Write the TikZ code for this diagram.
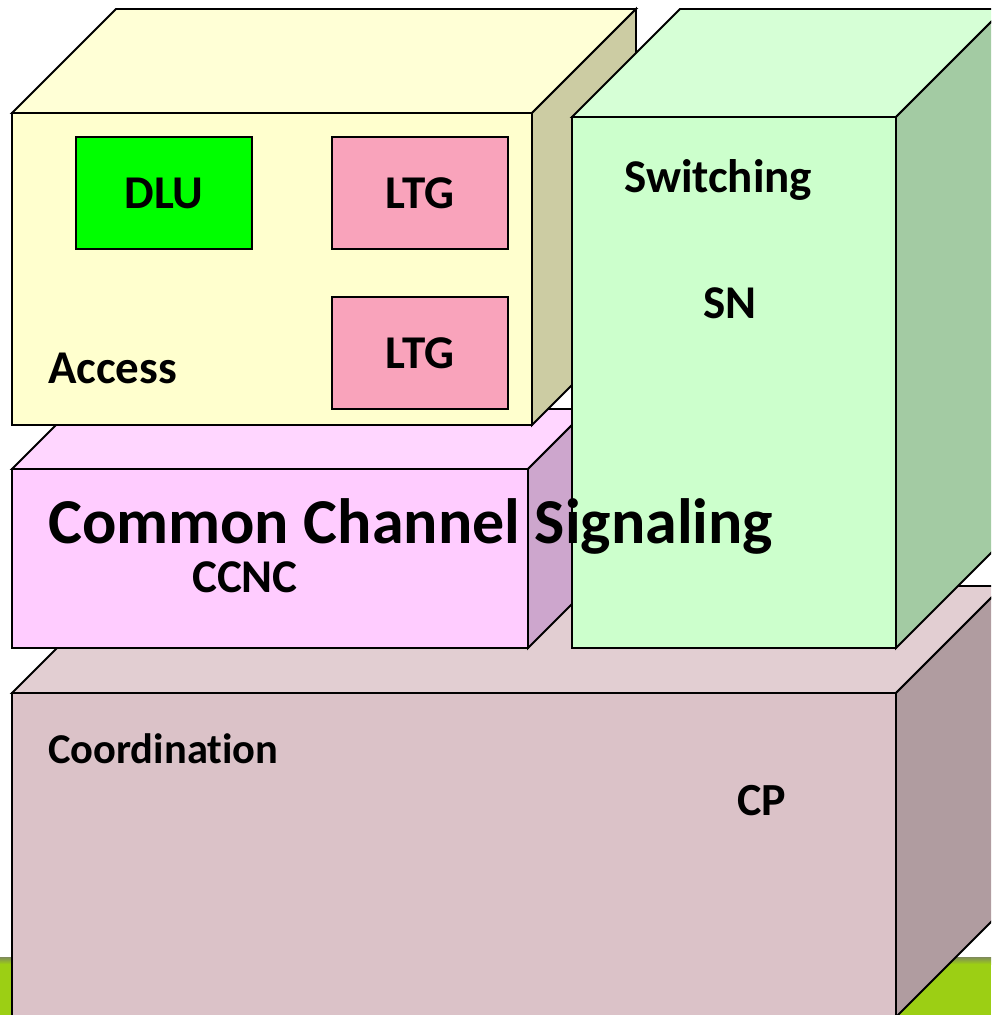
\documentclass[tikz,border=0pt]{standalone}
\usepackage{fontspec}
\setmainfont{Carlito}[Ligatures=NoCommon]

% face colours of the blocks: front, top, side
\definecolor{accFront}{HTML}{FFFFCE}
\definecolor{accTop}{HTML}{FFFFD6}
\definecolor{accSide}{HTML}{CCCCA3}
\definecolor{swFront}{HTML}{CCFFCC}
\definecolor{swTop}{HTML}{D6FFD6}
\definecolor{swSide}{HTML}{A3CBA3}
\definecolor{ccFront}{HTML}{FFCCFF}
\definecolor{ccTop}{HTML}{FFD6FF}
\definecolor{ccSide}{HTML}{CDA6CD}
\definecolor{cpFront}{HTML}{DBC2C8}
\definecolor{cpTop}{HTML}{E2CED2}
\definecolor{cpSide}{HTML}{B09CA0}
\definecolor{dluGreen}{HTML}{00FF00}
\definecolor{ltgPink}{HTML}{F9A3BB}
\definecolor{barGreen}{HTML}{9CCF14}
\definecolor{barOlive}{HTML}{7F8B5A}

\tikzset{
  edge/.style={draw=black,line width=1.9pt,line join=miter},
  lbl/.style={inner sep=0pt,anchor=base west,font=\bfseries\fontsize{47}{54}\selectfont},
  biglbl/.style={inner sep=0pt,anchor=base west,font=\bfseries\fontsize{64}{72}\selectfont},
  unitbox/.style={edge,rectangle,minimum width=176pt,minimum height=112pt,inner sep=0pt,
    font=\bfseries\fontsize{47}{54}\selectfont},
}

% a block seen from the front: front face (#1,#2)-(#3,#4), depth #5,
% colours #6 front, #7 top, #8 side
\newcommand\drawblock[8]{%
  \filldraw[edge,fill=#7] (#1,#2) -- (#1+#5,#2-#5) -- (#3+#5,#2-#5) -- (#3,#2) -- cycle;
  \filldraw[edge,fill=#8] (#3,#2) -- (#3+#5,#2-#5) -- (#3+#5,#4-#5) -- (#3,#4) -- cycle;
  \filldraw[edge,fill=#6] (#1,#2) rectangle (#3,#4);
}

\begin{document}
\begin{tikzpicture}[x=1pt,y=-1pt]
  \useasboundingbox (0,0) rectangle (991,1015);
  \clip (0,0) rectangle (991,1015);

  % green bar along the bottom edge
  \fill[barGreen] (0,957) rectangle (991,1015);
  \shade[top color=barOlive,bottom color=barGreen] (0,957) rectangle (991,964);

  % the four blocks, back to front
  \drawblock{12}{693}{896}{1017}{107}{cpFront}{cpTop}{cpSide}
  \drawblock{12}{469}{528}{648}{60}{ccFront}{ccTop}{ccSide}
  \drawblock{12}{113}{532}{425}{104}{accFront}{accTop}{accSide}
  \drawblock{572}{117}{896}{648}{108}{swFront}{swTop}{swSide}

  % units inside the access block
  \node[unitbox,fill=dluGreen] (dlu) at (164,193) {DLU};
  \node[unitbox,fill=ltgPink] (ltgA) at (420,193) {LTG};
  \node[unitbox,fill=ltgPink] (ltgB) at (420,353) {LTG};

  % labels
  \node[lbl] (access) at (48,383) {Access};
  \node[lbl] (switching) at (624,192) {Switching};
  \node[lbl,anchor=base] (sn) at (730,318) {SN};
  \node[biglbl] (ccs) at (48,543) {Common Channel Signaling};
  \node[lbl] (ccnc) at (192,592) {CCNC};
  \node[lbl,font=\bfseries\fontsize{42.5}{48}\selectfont] (coord) at (48,763) {Coordination};
  \node[lbl,font=\bfseries\fontsize{46}{52}\selectfont] (cp) at (737,815) {CP};
\end{tikzpicture}
\end{document}
